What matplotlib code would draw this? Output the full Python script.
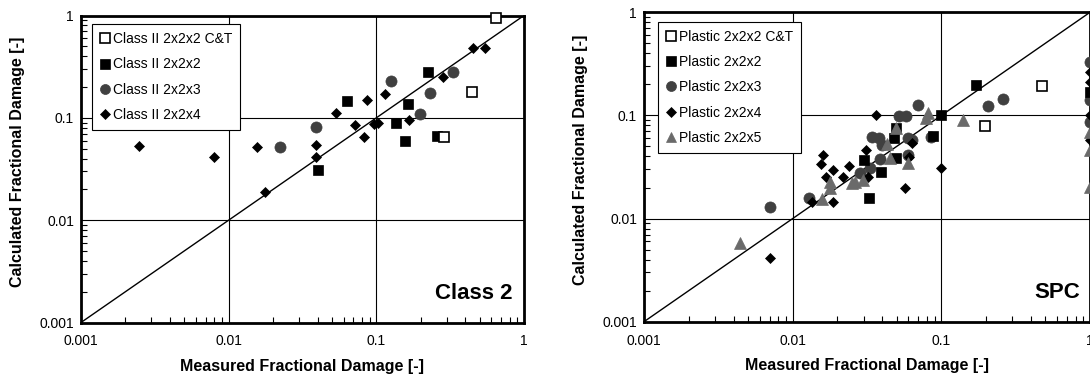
import numpy as np
import matplotlib
matplotlib.use("Agg")
import matplotlib.pyplot as plt
from matplotlib.ticker import FixedLocator, LogLocator, FuncFormatter, NullFormatter

FONTSIZE = 10

plt.rcParams.update({
    "font.family": "sans-serif",
    "font.sans-serif": ["Liberation Sans", "DejaVu Sans"],
    "font.size": FONTSIZE,
    "axes.linewidth": 2.0,
    "xtick.labelsize": FONTSIZE,
    "ytick.labelsize": FONTSIZE,
    "legend.fontsize": FONTSIZE})

FIG_W_PX = 1090
FIG_H_PX = 379
MARKERSIZE = 7.5
GREY_DARK = "#404040"
GREY_LIGHT = "#6a6a6a"

# ---- Class 2 (left panel) ----
c2_ct_meas = [0.65, 0.447, 0.288]
c2_ct_calc = [0.95, 0.177, 0.0645]

c2_222_meas = [0.223, 0.0632, 0.164, 0.136, 0.157, 0.257, 0.040]
c2_222_calc = [0.283, 0.146, 0.137, 0.089, 0.060, 0.067, 0.031]

c2_223_meas = [0.333, 0.125, 0.231, 0.199, 0.039, 0.0224]
c2_223_calc = [0.279, 0.230, 0.175, 0.109, 0.082, 0.0516]

c2_224_meas = [0.452, 0.545, 0.283, 0.115, 0.0859, 0.053, 0.072, 0.097, 0.103,
               0.167, 0.083, 0.039, 0.039, 0.0156, 0.0080, 0.00247, 0.0175]
c2_224_calc = [0.479, 0.479, 0.249, 0.171, 0.151, 0.112, 0.0846, 0.0865, 0.0885,
               0.096, 0.0645, 0.0543, 0.0412, 0.0523, 0.0412, 0.0527, 0.019]

# ---- SPC (right panel) ----
spc_ct_meas = [0.473, 0.197]
spc_ct_calc = [0.194, 0.0784]

spc_222_meas = [0.172, 0.1, 0.088, 0.0494, 0.048, 0.0494, 0.0301, 0.0392, 0.0327, 1.0]
spc_222_calc = [0.197, 0.1, 0.0636, 0.075, 0.060, 0.0389, 0.037, 0.0284, 0.0159, 0.170]

spc_223_meas = [0.259, 0.206, 0.0697, 0.052, 0.0577, 0.0847, 0.0344, 0.0382, 0.0396,
                0.0597, 0.063, 0.0385, 0.0597, 0.0331, 0.0283, 0.0128, 0.0070,
                1.0, 1.0, 1.0]
spc_223_calc = [0.143, 0.123, 0.126, 0.0996, 0.0996, 0.062, 0.062, 0.0608, 0.0516,
                0.0608, 0.0577, 0.0378, 0.0413, 0.0307, 0.0274, 0.0157, 0.0130,
                0.332, 0.141, 0.087]

spc_224_meas = [0.0363, 0.063, 0.0311, 0.0609, 0.1, 0.0568, 0.0322, 0.024, 0.0217,
                0.0186, 0.0168, 0.0159, 0.0155, 0.0186, 0.0135, 0.00706,
                1.0, 1.0, 1.0, 1.0]
spc_224_calc = [0.101, 0.0536, 0.0462, 0.0398, 0.0311, 0.0196, 0.0254, 0.0325, 0.0254,
                0.0295, 0.0254, 0.0413, 0.0336, 0.0146, 0.0144, 0.00417,
                0.265, 0.212, 0.101, 0.0577]

spc_225_meas = [0.00445, 0.139, 0.0813, 0.0785, 0.0499, 0.0432, 0.045, 0.0597, 0.0298,
                0.0262, 0.0249, 0.0178, 0.0178, 0.0157, 1.0, 1.0, 1.0]
spc_225_calc = [0.00575, 0.0903, 0.105, 0.0937, 0.075, 0.0525, 0.0384, 0.0343, 0.0236,
                0.0224, 0.0219, 0.0224, 0.0196, 0.0155, 0.0695, 0.0461, 0.0203]

decades = [0.001, 0.01, 0.1, 1]
decade_labels = ["0.001", "0.01", "0.1", "1"]

# marker styles: (marker, size, face, edge)
STYLE_CT = dict(marker="s", ms=MARKERSIZE, mfc="white", mec="black", mew=1.2, zorder=7)
STYLE_222 = dict(marker="s", ms=MARKERSIZE, mfc="black", mec="black", mew=0.5, zorder=4)
STYLE_223 = dict(marker="o", ms=8, mfc=GREY_DARK, mec=GREY_DARK, mew=0.5, zorder=3)
STYLE_224 = dict(marker="D", ms=5.6, mfc="black", mec="black", mew=0.5, zorder=5)
STYLE_225 = dict(marker="^", ms=8, mfc=GREY_LIGHT, mec=GREY_LIGHT, mew=0.5, zorder=6)


def style_axes(ax):
    """ Log-log axes with decade grid, inward minor ticks and a 1:1 line. """
    ax.set_xscale("log")
    ax.set_yscale("log")
    ax.set_xlim(0.001, 1)
    ax.set_ylim(0.001, 1)

    fmt = FuncFormatter(lambda v, pos: decade_labels[decades.index(v)] if v in decades else "")
    for axis in (ax.xaxis, ax.yaxis):
        axis.set_major_locator(FixedLocator(decades))
        axis.set_major_formatter(fmt)
        axis.set_minor_locator(LogLocator(base=10, subs=np.arange(2, 10)))
        axis.set_minor_formatter(NullFormatter())

    ax.tick_params(which="both", direction="in", top=False, right=False)
    ax.tick_params(which="minor", length=4, width=0.8)
    ax.tick_params(which="major", length=0)
    ax.tick_params(axis="x", which="major", pad=8.5)
    ax.tick_params(axis="y", which="major", pad=5)
    ax.grid(True, which="major", color="black", linewidth=0.8)
    ax.set_axisbelow(True)

    ax.plot(decades, decades, color="black", linewidth=1.0, zorder=2)

    ax.set_xlabel("Measured Fractional Damage [-]", fontsize=11.5, fontweight="bold")
    ax.set_ylabel("Calculated Fractional Damage [-]", fontsize=11.5, fontweight="bold")
    ax.xaxis.set_label_coords(0.5, -0.118)
    ax.yaxis.set_label_coords(-0.126, 0.524)


def add_legend(ax, x0, y0):
    leg = ax.legend(loc="upper left", bbox_to_anchor=(x0, y0), borderaxespad=0,
                    frameon=True, fancybox=False, framealpha=1, edgecolor="black",
                    handlelength=0.7, handletextpad=0.25, borderpad=0.55,
                    labelspacing=0.82, markerscale=0.9)
    leg.get_frame().set_linewidth(0.8)
    leg.set_zorder(10)
    return leg


fig = plt.figure(figsize=(FIG_W_PX / 100, FIG_H_PX / 100), dpi=100)
ax1 = fig.add_axes([81 / FIG_W_PX, 56.5 / FIG_H_PX, 443 / FIG_W_PX, 307 / FIG_H_PX])
ax2 = fig.add_axes([644 / FIG_W_PX, 57.3 / FIG_H_PX, 446 / FIG_W_PX, 309.4 / FIG_H_PX])

# Left: Class 2
style_axes(ax1)
ax1.plot(c2_ct_meas, c2_ct_calc, ls="none", clip_on=False, label="Class II 2x2x2 C&T", **STYLE_CT)
ax1.plot(c2_222_meas, c2_222_calc, ls="none", clip_on=False, label="Class II 2x2x2", **STYLE_222)
ax1.plot(c2_223_meas, c2_223_calc, ls="none", clip_on=False, label="Class II 2x2x3", **STYLE_223)
ax1.plot(c2_224_meas, c2_224_calc, ls="none", clip_on=False, label="Class II 2x2x4", **STYLE_224)
add_legend(ax1, 0.0255, 0.971)
ax1.text(0.974, 0.077, "Class 2", transform=ax1.transAxes, ha="right", va="baseline",
         fontsize=16, fontweight="bold")

# Right: SPC
style_axes(ax2)
ax2.plot(spc_ct_meas, spc_ct_calc, ls="none", clip_on=False, label="Plastic 2x2x2 C&T", **STYLE_CT)
ax2.plot(spc_222_meas, spc_222_calc, ls="none", clip_on=False, label="Plastic 2x2x2", **STYLE_222)
ax2.plot(spc_223_meas, spc_223_calc, ls="none", clip_on=False, label="Plastic 2x2x3", **STYLE_223)
ax2.plot(spc_224_meas, spc_224_calc, ls="none", clip_on=False, label="Plastic 2x2x4", **STYLE_224)
ax2.plot(spc_225_meas, spc_225_calc, ls="none", clip_on=False, label="Plastic 2x2x5", **STYLE_225)
add_legend(ax2, 0.032, 0.969)
ax2.text(0.978, 0.076, "SPC", transform=ax2.transAxes, ha="right", va="baseline",
         fontsize=16, fontweight="bold")

fig.savefig("out.png", dpi=100)
